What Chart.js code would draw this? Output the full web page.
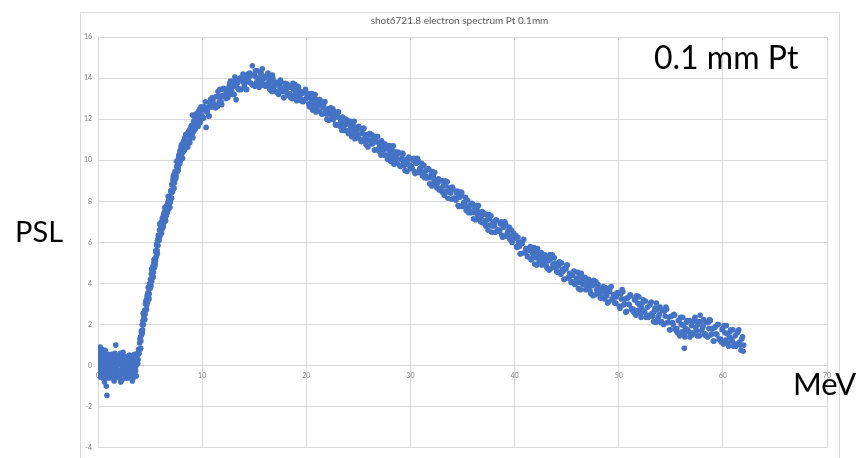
<!DOCTYPE html>
<html>
<head>
<meta charset="utf-8">
<script src="https://cdn.jsdelivr.net/npm/chart.js@4.4.0/dist/chart.umd.min.js"></script>
<style>
  html, body { margin: 0; padding: 0; background: #fff; }
</style>
</head>
<body>
<canvas id="myChart" width="865" height="458"></canvas>
<script>
// shot6721.8 - electron spectrum, 0.1 mm Pt
const chartTitle = 'shot6721.8 electron spectrum Pt 0.1mm';
const yAxisName = 'PSL';
const xAxisName = 'MeV';
const targetNote = '0.1 mm Pt';

const xRange = [0, 70, 10];   // min, max, step
const yRange = [-4, 16, 2];

// energy (MeV)
const energyMeV = [
  0.10,0.12,0.14,0.16,0.18,0.20,0.22,0.24,0.26,0.28,
  0.30,0.32,0.34,0.36,0.38,0.40,0.42,0.45,0.48,0.50,
  0.53,0.56,0.60,0.63,0.66,0.70,0.73,0.76,0.80,0.83,
  0.86,0.88,0.90,0.93,0.96,1.00,1.04,1.08,1.12,1.16,
  1.20,1.24,1.28,1.32,1.36,1.40,1.45,1.50,1.55,1.60,
  1.65,1.70,1.74,1.78,1.82,1.86,1.90,1.95,2.00,2.05,
  2.10,2.15,2.20,2.25,2.30,2.35,2.40,2.45,2.50,2.55,
  2.60,2.65,2.70,2.75,2.80,2.85,2.90,2.95,3.00,3.05,
  3.10,3.15,3.20,3.25,3.30,3.35,3.40,3.45,3.50,3.55,
  3.60,3.65,3.70,3.75,3.80,3.85,3.90,
  0.11,0.15,0.19,0.23,0.27,0.31,0.35,0.39,0.44,0.49,
  0.55,0.62,0.68,0.75,0.82,0.92,0.98,1.06,1.14,1.22,
  1.30,1.38,1.48,1.58,1.68,1.80,1.92,2.02,2.12,2.22,
  2.32,2.42,2.52,2.62,2.72,2.82,2.92,3.02,3.12,3.22,
  3.32,3.42,3.52,3.62,3.72,3.82,
  0.13,0.17,0.21,0.25,0.29,0.33,0.37,0.41,0.46,0.51,
  0.58,0.65,0.72,0.79,0.85,0.95,1.02,1.10,1.18,1.26,
  1.34,1.42,1.52,1.62,1.72,1.84,1.97,2.07,2.17,2.27,
  2.37,2.47,2.57,2.67,2.77,2.87,2.97,3.07,3.17,3.27,
  3.37,3.47,3.57,3.67,3.77,3.87,1.53,2.18,2.88,0.68,
  3.95,4.00,4.04,4.08,4.12,4.16,4.20,4.24,4.28,4.32,
  4.36,4.40,4.44,4.48,4.52,4.56,4.60,4.64,4.68,4.72,
  4.76,4.80,4.84,4.88,4.92,4.96,5.00,5.04,5.08,5.12,
  5.16,5.20,5.24,5.28,5.32,5.36,5.40,5.44,5.48,5.52,
  5.56,5.60,5.64,5.68,5.72,5.76,5.80,5.85,5.90,5.95,
  6.00,6.05,6.10,6.15,6.20,6.25,6.30,6.35,6.40,6.45,
  6.50,6.55,6.60,6.65,6.70,6.75,6.80,6.85,6.90,6.95,
  7.00,7.05,7.10,7.15,7.20,7.25,7.30,7.35,7.40,7.45,
  7.50,7.55,7.60,7.65,7.70,7.75,7.80,7.86,7.92,7.98,
  8.04,8.10,8.16,8.22,8.28,8.34,8.40,8.46,8.52,8.58,
  8.64,8.70,8.76,8.82,8.88,8.94,9.00,9.06,9.12,9.18,
  9.24,9.30,9.36,9.42,9.48,9.54,9.60,9.66,9.72,9.78,
  9.84,9.90,9.96,
  4.02,4.10,4.18,4.26,4.34,4.42,4.50,4.58,4.66,4.74,
  4.82,4.90,4.98,5.06,5.14,5.22,5.30,5.38,5.46,5.54,
  5.62,5.70,5.78,5.86,5.94,6.02,6.10,6.18,6.26,6.34,
  6.42,6.50,6.58,6.66,6.74,6.82,6.90,6.98,7.06,7.14,
  7.22,7.30,7.38,7.46,7.54,7.62,7.70,7.78,7.86,7.94,
  8.02,8.12,8.22,8.32,8.42,8.52,8.62,8.72,8.82,8.92,
  9.02,9.12,9.22,9.32,9.42,9.52,9.62,9.72,9.82,9.92,
  10.02,10.14,10.26,10.38,10.50,10.62,10.74,10.86,10.98,11.10,
  11.22,11.34,11.46,11.58,11.70,11.82,11.94,12.06,12.18,12.30,
  12.42,12.54,12.66,12.78,12.90,13.02,13.14,13.26,13.38,13.50,
  13.62,13.74,13.86,13.98,14.10,14.22,14.34,14.46,14.58,14.70,
  14.82,14.94,15.06,15.18,15.30,15.42,15.54,15.66,15.78,15.90,
  16.02,16.14,16.26,16.38,16.50,16.62,16.74,16.86,16.98,17.10,
  17.22,17.34,17.46,17.58,17.70,17.82,17.94,18.06,18.18,18.30,
  18.42,18.54,18.66,18.78,18.90,19.02,19.14,19.26,19.38,19.50,
  19.62,19.74,19.86,19.98,
  10.08,10.20,10.32,10.44,10.56,10.68,10.80,10.92,11.04,11.16,
  11.28,11.40,11.52,11.64,11.76,11.88,12.00,12.12,12.24,12.36,
  12.48,12.60,12.72,12.84,12.96,13.08,13.20,13.32,13.44,13.56,
  13.68,13.80,13.92,14.04,14.16,14.28,14.40,14.52,14.64,14.76,
  14.88,15.00,15.12,15.24,15.36,15.48,15.60,15.72,15.84,15.96,
  16.08,16.20,16.32,16.44,16.56,16.68,16.80,16.92,17.04,17.16,
  17.28,17.40,17.52,17.64,17.76,17.88,18.00,18.12,18.24,18.36,
  18.48,18.60,18.72,18.84,18.96,19.08,19.20,19.32,19.44,19.56,
  19.68,19.80,19.92,
  20.10,20.22,20.35,20.48,20.60,20.73,20.85,20.98,21.10,21.23,
  21.35,21.48,21.60,21.73,21.85,21.98,22.10,22.23,22.35,22.48,
  22.60,22.73,22.85,22.98,23.10,23.23,23.35,23.48,23.60,23.73,
  23.85,23.98,24.10,24.23,24.35,24.48,24.60,24.73,24.85,24.98,
  25.10,25.23,25.35,25.48,25.60,25.73,25.85,25.98,26.10,26.23,
  26.35,26.48,26.60,26.73,26.85,26.98,27.10,27.23,27.35,27.48,
  27.60,27.73,27.85,27.98,28.10,28.23,28.35,28.48,28.60,28.73,
  28.85,28.98,29.10,29.23,29.35,29.48,29.60,29.73,29.85,29.98,
  20.16,20.29,20.42,20.54,20.67,20.79,20.92,21.04,21.17,21.29,
  21.42,21.54,21.67,21.79,21.92,22.04,22.17,22.29,22.42,22.54,
  22.67,22.79,22.92,23.04,23.17,23.29,23.42,23.54,23.67,23.79,
  23.92,24.04,24.17,24.29,24.42,24.54,24.67,24.79,24.92,25.04,
  25.17,25.29,25.42,25.54,25.67,25.79,25.92,26.04,26.17,26.29,
  26.42,26.54,26.67,26.79,26.92,27.04,27.17,27.29,27.42,27.54,
  27.67,27.79,27.92,28.04,28.17,28.29,28.42,28.54,28.67,28.79,
  28.92,29.04,29.17,29.29,29.42,29.54,29.67,29.79,29.92,
  30.10,30.24,30.38,30.52,30.66,30.80,30.94,31.08,31.22,31.36,
  31.50,31.64,31.78,31.92,32.06,32.20,32.34,32.48,32.62,32.76,
  32.90,33.04,33.18,33.32,33.46,33.60,33.74,33.88,34.02,34.16,
  34.30,34.44,34.58,34.72,34.86,35.00,35.14,35.28,35.42,35.56,
  35.70,35.84,35.98,36.12,36.26,36.40,36.54,36.68,36.82,36.96,
  37.10,37.24,37.38,37.52,37.66,37.80,37.94,38.08,38.22,38.36,
  38.50,38.64,38.78,38.92,39.06,39.20,39.34,39.48,39.62,39.76,
  39.90,
  30.17,30.31,30.45,30.59,30.73,30.87,31.01,31.15,31.29,31.43,
  31.57,31.71,31.85,31.99,32.13,32.27,32.41,32.55,32.69,32.83,
  32.97,33.11,33.25,33.39,33.53,33.67,33.81,33.95,34.09,34.23,
  34.37,34.51,34.65,34.79,34.93,35.07,35.21,35.35,35.49,35.63,
  35.77,35.91,36.05,36.19,36.33,36.47,36.61,36.75,36.89,37.03,
  37.17,37.31,37.45,37.59,37.73,37.87,38.01,38.15,38.29,38.43,
  38.57,38.71,38.85,38.99,39.13,39.27,39.41,39.55,39.69,39.83,
  40.04,40.18,40.32,40.46,40.60,40.74,40.88,41.02,41.16,41.30,
  41.44,41.58,41.72,41.86,42.00,42.14,42.28,42.42,42.56,42.70,
  42.84,42.98,43.12,43.26,43.40,43.54,43.68,43.82,43.96,44.10,
  44.24,44.38,44.52,44.66,44.80,44.94,45.08,45.22,45.36,45.50,
  45.64,45.78,45.92,46.06,46.20,46.34,46.48,46.62,46.76,46.90,
  47.04,47.18,47.32,47.46,47.60,47.74,47.88,48.02,48.16,48.30,
  48.44,48.58,48.72,48.86,49.00,49.14,49.28,49.42,49.56,49.70,
  49.84,
  40.11,40.25,40.39,40.53,40.67,40.81,40.95,41.09,41.23,41.37,
  41.51,41.65,41.79,41.93,42.07,42.21,42.35,42.49,42.63,42.77,
  42.91,43.05,43.19,43.33,43.47,43.61,43.75,43.89,44.03,44.17,
  44.31,44.45,44.59,44.73,44.87,45.01,45.15,45.29,45.43,45.57,
  45.71,45.85,45.99,46.13,46.27,46.41,46.55,46.69,46.83,46.97,
  47.11,47.25,47.39,47.53,47.67,47.81,47.95,48.09,48.23,48.37,
  48.51,48.65,48.79,48.93,49.07,49.21,49.35,49.49,49.63,49.77,
  49.98,50.12,50.26,50.40,50.54,50.68,50.82,50.96,51.10,51.24,
  51.38,51.52,51.66,51.80,51.94,52.08,52.22,52.36,52.50,52.64,
  52.78,52.92,53.06,53.20,53.34,53.48,53.62,53.76,53.90,54.04,
  54.18,54.32,54.46,54.60,54.74,54.88,55.02,55.16,55.30,55.44,
  55.58,55.72,55.86,56.00,56.14,56.28,56.42,56.56,56.70,56.84,
  56.98,57.12,57.26,57.40,57.54,57.68,57.82,57.96,58.10,58.24,
  58.38,58.52,58.66,58.80,58.94,59.08,59.22,59.36,59.50,59.64,
  59.78,59.92,60.06,60.20,60.34,60.48,60.62,60.76,60.90,61.04,
  61.18,61.32,61.46,61.60,61.74,61.88,62.00,56.30,
  50.05,50.19,50.33,50.47,50.61,50.75,50.89,51.03,51.17,51.31,
  51.45,51.59,51.73,51.87,52.01,52.15,52.29,52.43,52.57,52.71,
  52.85,52.99,53.13,53.27,53.41,53.55,53.69,53.83,53.97,54.11,
  54.25,54.39,54.53,54.67,54.81,54.95,55.09,55.23,55.37,55.51,
  55.65,55.79,55.93,56.07,56.21,56.35,56.49,56.63,56.77,56.91,
  57.05,57.19,57.33,57.47,57.61,57.75,57.89,58.03,58.17,58.31,
  58.45,58.59,58.73,58.87,59.01,59.15,59.29,59.43,59.57,59.71,
  59.85,59.99,60.13,60.27,60.41,60.55,60.69,60.83,60.97,61.11,
  61.25,61.39,61.53,61.67,61.81,61.95
];

// PSL signal for each energy above
const pslValues = [
  0.6,-0.2,0.85,0.1,-0.4,0.9,0.3,-0.1,0.7,-0.5,
  0.45,0.0,0.8,-0.3,0.2,0.65,-0.6,0.35,-0.15,0.75,
  0.05,-0.45,0.5,-0.8,0.25,-0.25,0.4,-0.05,-1.0,0.3,
  -1.45,-0.55,0.15,-0.35,0.55,-0.1,0.2,-0.6,0.35,-0.2,
  0.45,0.0,-0.4,0.3,-0.15,0.5,-0.5,0.1,-0.75,0.25,
  -0.3,1.0,0.4,-0.1,0.3,-0.45,0.15,-0.25,0.35,-0.6,
  0.05,0.6,-0.35,0.2,-0.7,0.3,0.65,-0.2,0.1,-0.45,
  0.35,-0.1,0.25,-0.5,0.0,0.3,-0.25,0.15,-0.4,0.5,
  -0.1,0.2,-0.3,0.05,-0.75,0.3,-0.15,0.1,0.55,-0.2,
  0.2,0.0,0.35,0.1,0.6,0.3,0.8,
  -0.35,0.4,0.55,-0.45,0.15,-0.2,0.6,-0.1,0.3,-0.3,
  0.45,0.1,-0.55,0.2,-0.2,0.4,-0.45,0.3,0.05,-0.35,
  0.15,-0.5,0.3,-0.05,0.45,-0.3,0.5,0.1,-0.45,0.4,
  0.0,-0.35,0.45,-0.3,0.4,-0.2,0.35,0.1,-0.5,0.3,
  0.15,-0.4,0.0,-0.25,0.45,0.1,
  0.3,-0.55,0.7,0.05,0.5,-0.4,0.25,0.0,-0.25,0.2,
  -0.2,0.35,0.0,-0.6,0.1,-0.15,0.5,-0.3,0.25,0.55,
  -0.45,0.25,-0.2,0.6,-0.55,0.0,-0.4,0.45,0.25,-0.2,
  0.1,0.4,-0.05,-0.6,0.2,-0.5,0.5,-0.3,0.4,-0.1,
  0.4,-0.55,0.3,-0.5,0.2,0.55,-0.65,-0.8,-0.6,0.75,
  0.6,1.1,0.8,1.4,1.2,1.7,1.5,2.0,1.75,2.2,
  2.0,2.45,2.25,2.7,2.5,3.0,2.7,3.2,2.95,3.35,
  3.1,3.55,3.35,3.8,3.5,4.0,3.75,4.2,3.9,4.45,
  4.1,4.6,4.35,4.85,4.55,5.0,4.75,5.2,4.95,5.1,
  5.6,5.3,5.85,5.6,6.1,5.85,6.35,6.1,6.6,6.3,
  6.8,6.45,7.0,6.65,7.2,6.85,7.35,7.0,7.5,7.15,
  7.65,7.3,7.8,7.45,7.95,7.6,8.1,7.75,8.25,7.95,
  8.5,8.15,8.8,8.45,9.05,8.6,9.3,8.9,9.45,9.1,
  9.25,9.7,9.45,10.0,9.65,10.2,9.8,10.45,10.0,10.65,
  10.3,10.8,10.4,10.95,10.5,11.1,10.6,11.2,10.75,11.3,
  10.85,11.4,10.95,11.5,11.1,11.65,11.2,12.2,11.35,11.9,
  11.45,12.0,11.6,12.15,11.75,12.3,11.85,12.4,12.0,12.5,
  12.05,12.6,12.2,
  1.3,0.85,1.65,1.6,2.55,2.3,2.25,3.1,2.75,3.45,
  3.8,3.25,3.95,3.85,4.7,4.4,4.3,5.15,4.85,5.55,
  5.9,5.45,6.2,6.1,6.9,6.6,6.45,7.15,6.75,7.4,
  7.7,7.05,7.65,7.5,8.25,7.9,7.7,8.5,8.15,8.85,
  9.2,8.65,9.3,9.15,9.95,9.65,9.5,10.25,9.85,10.5,
  10.75,10.1,10.7,10.5,11.25,10.85,10.65,11.35,10.85,11.45,
  11.7,11.1,11.7,11.5,12.25,11.85,11.65,12.35,11.85,12.45,
  12.55,12.05,12.45,11.6,12.4,12.15,12.75,12.6,13.05,12.6,
  12.7,13.1,12.6,13.1,13.45,12.85,13.15,13.5,13.15,13.0,
  13.45,13.2,13.75,13.45,13.2,13.8,14.05,12.95,13.75,13.45,
  14.0,13.45,13.85,14.15,13.75,13.45,14.05,13.85,14.25,13.75,
  14.6,14.15,13.6,14.05,14.35,13.7,13.95,14.25,14.45,13.65,
  14.0,13.7,14.15,13.8,13.45,13.95,14.15,13.55,13.7,13.35,
  13.8,13.2,13.55,13.8,13.35,13.05,13.55,13.35,13.7,13.2,
  13.25,13.55,13.0,13.45,13.7,13.05,13.3,13.55,13.15,12.9,
  13.25,12.9,13.35,13.0,
  12.05,12.6,12.85,12.35,12.55,12.15,12.95,12.6,12.9,12.6,
  12.55,13.1,13.35,12.85,13.1,12.7,13.45,13.1,13.4,13.05,
  13.05,13.6,13.85,13.35,13.6,13.2,13.9,13.55,13.85,13.45,
  13.45,14.0,14.2,13.65,13.9,13.45,14.2,13.8,14.1,13.7,
  13.65,14.15,14.35,13.8,14.0,13.55,14.25,13.85,14.1,13.7,
  13.6,14.05,14.25,13.65,13.85,13.35,14.0,13.6,13.8,13.35,
  13.25,13.7,13.9,13.35,13.5,13.05,13.75,13.3,13.55,13.15,
  13.05,13.55,13.75,13.15,13.35,12.9,13.6,13.15,13.35,12.95,
  12.85,13.3,13.45,
  13.1,12.75,13.2,12.8,12.45,13.0,13.2,12.55,12.75,12.4,
  12.85,12.25,12.55,12.85,12.35,12.0,12.5,12.25,12.55,12.0,
  12.0,12.3,11.7,12.1,12.35,11.65,11.85,12.1,11.65,11.45,
  11.8,11.45,11.9,11.5,11.15,11.7,11.9,11.25,11.45,11.1,
  11.55,11.0,11.3,11.55,11.05,10.75,11.25,11.0,11.3,10.8,
  10.8,11.1,10.5,10.9,11.15,10.45,10.65,10.95,10.5,10.25,
  10.6,10.25,10.7,10.3,9.95,10.5,10.7,10.05,10.2,9.85,
  10.35,9.75,10.05,10.35,9.85,9.5,10.05,9.8,10.15,9.6,
  13.25,12.6,13.0,13.25,12.65,12.85,12.35,12.95,12.65,12.95,
  12.85,12.25,12.65,12.85,12.25,12.4,11.95,12.5,12.2,12.5,
  12.4,11.75,12.15,12.35,11.75,11.95,11.45,12.0,11.7,12.0,
  11.95,11.3,11.7,11.9,11.35,11.55,11.05,11.6,11.3,11.65,
  11.55,10.9,11.3,11.55,10.95,11.15,10.65,11.25,10.95,11.25,
  11.15,10.5,10.9,11.15,10.55,10.75,10.25,10.8,10.5,10.8,
  10.7,10.05,10.5,10.7,10.1,10.3,9.8,10.4,10.1,10.4,
  10.35,9.7,10.1,10.3,9.75,9.95,9.45,10.05,9.75,
  9.7,10.0,9.45,9.85,10.1,9.4,9.6,9.85,9.4,9.15,
  9.5,9.15,9.55,9.15,8.75,9.25,9.4,8.75,8.9,8.55,
  9.0,8.45,8.75,9.0,8.5,8.15,8.65,8.4,8.7,8.15,
  8.15,8.4,7.8,8.2,8.45,7.75,7.95,8.2,7.75,7.45,
  7.8,7.45,7.85,7.45,7.1,7.6,7.8,7.15,7.3,6.95,
  7.4,6.8,7.1,7.35,6.85,6.5,7.0,6.8,7.1,6.55,
  6.6,6.9,6.35,6.75,7.0,6.3,6.5,6.75,6.3,6.0,
  6.45,
  9.6,10.1,9.35,9.85,10.0,9.55,9.65,9.25,9.75,9.25,
  9.15,9.6,8.85,9.3,9.45,8.95,9.05,8.65,9.1,8.65,
  8.55,9.0,8.3,8.8,8.95,8.45,8.5,8.1,8.6,8.15,
  8.05,8.5,7.75,8.25,8.4,7.85,7.95,7.55,8.05,7.6,
  7.45,7.9,7.15,7.65,7.8,7.3,7.4,7.0,7.5,7.05,
  6.95,7.35,6.6,7.15,7.3,6.8,6.9,6.5,7.05,6.6,
  6.55,7.0,6.25,6.75,6.9,6.4,6.55,6.15,6.6,6.15,
  6.2,5.8,6.25,5.8,5.45,5.95,6.15,5.5,5.65,5.3,
  5.75,5.15,5.5,5.75,5.25,4.9,5.45,5.2,5.5,5.0,
  5.0,5.3,4.75,5.15,5.4,4.75,4.95,5.25,4.8,4.55,
  4.9,4.55,5.0,4.6,4.2,4.7,4.9,4.25,4.45,4.1,
  4.55,3.95,4.25,4.55,4.05,3.7,4.25,4.0,4.3,3.75,
  3.8,4.1,3.5,3.9,4.15,3.45,3.7,3.95,3.5,3.3,
  3.65,3.35,3.8,3.4,3.1,3.6,3.85,3.2,3.4,3.05,
  3.55,
  6.35,5.75,6.0,5.45,6.0,6.1,5.5,5.7,5.3,5.6,
  5.8,5.2,5.45,4.95,5.55,5.7,5.1,5.3,4.9,5.2,
  5.4,4.85,5.1,4.65,5.2,5.4,4.8,5.0,4.6,4.85,
  5.05,4.45,4.7,4.2,4.75,4.9,4.3,4.5,4.05,4.4,
  4.6,4.0,4.25,3.75,4.35,4.5,3.95,4.15,3.7,4.0,
  4.2,3.65,3.9,3.4,3.95,4.1,3.5,3.75,3.3,3.6,
  3.85,3.25,3.55,3.05,3.65,3.8,3.25,3.45,3.05,3.35,
  3.55,2.8,3.25,3.6,3.0,2.6,3.3,3.0,3.45,2.75,
  2.75,3.2,2.45,3.05,3.35,2.55,2.8,3.2,2.6,2.35,
  2.85,2.45,3.05,2.55,2.15,2.8,3.05,2.3,2.5,2.1,
  2.7,2.0,2.4,2.75,2.1,1.75,2.4,2.1,2.5,1.8,
  1.8,2.2,1.45,2.0,2.35,1.55,1.8,2.2,1.65,1.4,
  1.95,1.6,2.25,1.85,1.45,2.15,2.45,1.7,1.9,1.5,
  2.1,1.4,1.8,2.2,1.55,1.2,1.85,1.55,2.0,1.3,
  1.3,1.75,1.05,1.6,1.95,1.1,1.4,1.75,1.2,0.95,
  1.45,1.05,1.65,1.15,0.75,1.4,1.0,0.85,
  2.9,3.5,3.7,2.95,3.25,2.65,3.3,2.95,3.4,2.7,
  2.6,3.25,3.4,2.7,2.95,2.35,3.05,2.65,3.15,2.4,
  2.35,2.95,3.1,2.4,2.65,2.1,2.75,2.4,2.85,2.15,
  2.05,2.65,2.85,2.1,2.35,1.75,2.4,2.0,2.45,1.7,
  1.6,2.2,2.35,1.65,1.95,1.4,2.1,1.75,2.2,1.5,
  1.5,2.15,2.35,1.7,2.0,1.45,2.15,1.8,2.25,1.55,
  1.45,2.1,2.25,1.5,1.8,1.2,1.9,1.5,2.0,1.25,
  1.15,1.8,1.95,1.25,1.55,0.95,1.65,1.3,1.75,1.05,
  0.95,1.6,1.75,1.0,1.3,0.7
];

// chart frame + free text boxes (like the excel text boxes)
const decorations = {
  id: 'decorations',
  beforeDraw(chart) {
    const c = chart.ctx;
    c.save();
    c.fillStyle = '#ffffff';
    c.fillRect(0, 0, chart.width, chart.height);
    c.strokeStyle = '#d9d9d9';
    c.lineWidth = 1;
    c.strokeRect(80.5, 12.5, 759, 460);
    c.restore();
  },
  afterDraw(chart) {
    const c = chart.ctx;
    c.save();
    c.fillStyle = '#000000';
    c.textBaseline = 'alphabetic';
    c.textAlign = 'left';
    c.font = '29px Lato, "Open Sans", sans-serif';
    c.fillText(yAxisName, 15, 242);
    c.font = '31px Lato, "Open Sans", sans-serif';
    c.fillText(xAxisName, 793, 395);
    c.font = '32px Lato, "Open Sans", sans-serif';
    c.fillText(targetNote, 654, 69);
    c.restore();
  }
};

const ctx = document.getElementById('myChart').getContext('2d');
let points = [];
energyMeV.forEach((e, i) => {
  points.push({ x: e, y: pslValues[i] });
});

const tickFont = { family: 'Lato, sans-serif', size: 7 };

const myChart = new Chart(ctx, {
  type: 'scatter',
  data: {
    datasets: [{
      data: points,
      backgroundColor: '#4472C4',
      borderWidth: 0,
      pointRadius: 2.8,
      pointHoverRadius: 2.8
    }]
  },
  options: {
    responsive: false,
    animation: false,
    events: [],
    devicePixelRatio: 1,
    layout: { padding: { left: 80, right: 26, top: 12, bottom: 9 } },
    plugins: {
      legend: { display: false },
      tooltip: { enabled: false },
      title: {
        display: true,
        text: chartTitle,
        color: '#595959',
        font: { family: 'Lato, sans-serif', size: 10, weight: 'normal' },
        padding: { top: 3, bottom: 10 }
      }
    },
    scales: {
      x: {
        type: 'linear',
        position: { y: 0 },
        min: xRange[0],
        max: xRange[1],
        ticks: { stepSize: xRange[2], color: '#7f7f7f', font: tickFont, padding: 6 },
        grid: { color: '#d9d9d9', drawTicks: false },
        border: { display: false }
      },
      y: {
        type: 'linear',
        position: 'left',
        min: yRange[0],
        max: yRange[1],
        ticks: { stepSize: yRange[2], color: '#7f7f7f', font: tickFont, padding: 6 },
        grid: { color: '#d9d9d9', drawTicks: false },
        border: { display: true, color: '#d9d9d9' },
        afterFit(scale) { scale.width = 18; }
      },
      yr: {
        type: 'linear',
        position: 'right',
        display: true,
        ticks: { display: false },
        grid: { display: false },
        border: { display: false },
        afterFit(scale) { scale.width = 12; }
      }
    }
  },
  plugins: [decorations]
});
</script>
</body>
</html>
